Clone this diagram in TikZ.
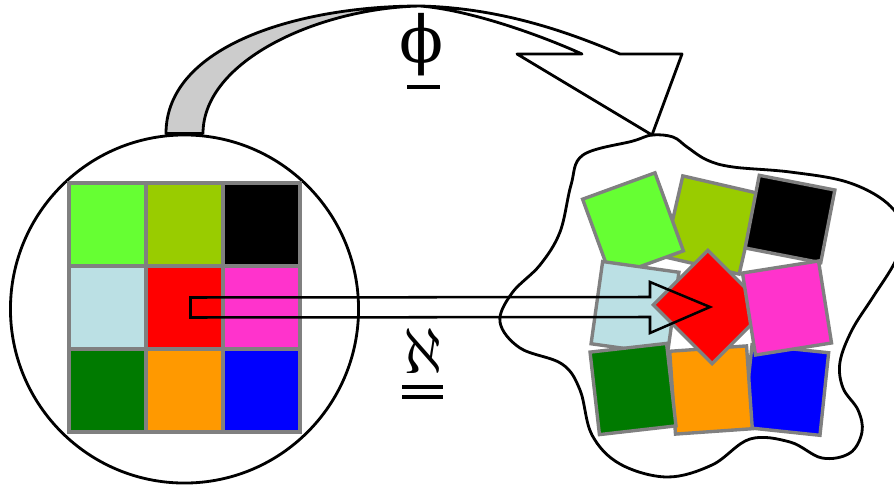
\documentclass[tikz,border=0pt]{standalone}
\usepackage{fix-cm}
\usepackage{fontspec}
\newfontfamily\greekserif{DejaVu Serif}
\usetikzlibrary{calc}
\definecolor{lime}{RGB}{102,255,51}
\definecolor{moss}{RGB}{153,204,0}
\definecolor{ice}{RGB}{187,224,228}
\definecolor{rose}{RGB}{255,51,204}
\definecolor{forest}{RGB}{0,122,0}
\definecolor{amber}{RGB}{255,153,0}
\definecolor{edge}{RGB}{128,128,128}
\definecolor{bandgray}{RGB}{204,204,204}
\tikzset{
  every picture/.style={line width=2pt},
  cell/.style={draw=edge, line width=2.4pt, minimum width=1.925cm, minimum height=2.075cm, inner sep=0pt},
  lens/.style={draw, circle, minimum size=8.7cm, inner sep=0pt},
  band/.style={draw, line width=2pt, line join=round},
  outline/.style={draw, line width=1.8pt, line join=miter},
  glyph/.style={inner sep=0pt, font=\fontsize{46}{50}\selectfont},
  bar/.style={line width=2.2pt},
}

\begin{document}
\begin{tikzpicture}[x=0.025cm, y=-0.025cm]
  % pixel grid of the reference: x to the right, y downwards
  \useasboundingbox (0,0) rectangle (894,486);
  \node[lens] (lens) at (184.5,309) {};
  % the ordered picture: nine cells in a square
  \node[cell, fill=lime]   (limeL)   at (107.5,224.5) {};
  \node[cell, fill=moss]   (mossL)   at (184.5,224.5) {};
  \node[cell, fill=black]  (blackL)  at (261.5,224.5) {};
  \node[cell, fill=ice]    (iceL)    at (107.5,307.5) {};
  \node[cell, fill=red]    (redL)    at (184.5,307.5) {};
  \node[cell, fill=rose]   (roseL)   at (261.5,307.5) {};
  \node[cell, fill=forest] (forestL) at (107.5,390.5) {};
  \node[cell, fill=amber]  (amberL)  at (184.5,390.5) {};
  \node[cell, fill=blue]   (blueL)   at (261.5,390.5) {};
  % the blob, running off the right edge
  \draw plot[smooth cycle, tension=0.6] coordinates {
    (652,135) (673,137) (687,147) (707,160) (733,167) (790,172) (847,182)
    (887,203) (905,232) (895,262) (873,297) (852,330) (840,362) (843,388)
    (858,410) (862,432) (850,453) (822,458) (790,442) (750,439) (712,465)
    (667,477) (620,464) (592,435) (580,390) (562,364) (520,348) (500,322)
    (512,293) (540,265) (560,232) (571,185) (583,155) (633,141)};
  % the same nine cells, shaken about
  \node[cell, fill=moss, rotate=-13]  (mossR)   at (711,225) {};
  \node[cell, fill=black, rotate=-11, minimum height=1.85cm] (blackR) at (790,219) {};
  \node[cell, fill=lime, rotate=20]   (limeR)   at (633,225) {};
  \node[cell, fill=ice, rotate=-8]    (iceR)    at (635,308) {};
  \node[cell, fill=blue, rotate=-6]   (blueR)   at (786,390) {};
  \node[cell, fill=amber, rotate=4]   (amberR)  at (711,390) {};
  \node[cell, fill=forest, rotate=6.5] (forestR) at (633,389) {};
  \node[cell, fill=red, rotate=45]    (redR)    at (710,307) {};
  \node[cell, fill=rose, rotate=9]    (roseR)   at (787,308) {};
  % the map phi: a bent band from the circle to the blob
  \coordinate (footL) at ($(lens.north)+(-18.5,0)$);
  \coordinate (footR) at ($(lens.north)+(18.5,0)$);
  \coordinate (tip) at (652,135);
  \fill[bandgray] (footL) .. controls (166,45) and (300,6) .. (420,6)
    .. controls (320,8) and (203,60) .. (footR) -- cycle;
  \draw[band] (footL) .. controls (166,45) and (300,6) .. (420,6)
    .. controls (505,8) and (575,35) .. (620,54) -- (682,54) -- (tip) -- (517,54) -- (582,54)
    .. controls (540,35) and (470,10) .. (420,6)
    .. controls (320,8) and (203,60) .. (footR) -- cycle;
  % the cell map aleph: an open block arrow from red to red
  \draw[outline] ($(redL)+(6,-10)$) -- ($(redR)+(-60,-10)$) -- ($(redR)+(-60,-25)$)
    -- (redR.center) -- ($(redR)+(-60,26)$) -- ($(redR)+(-60,10)$) -- ($(redL)+(6,10)$) -- cycle;
  \node[glyph, anchor=base] (phi) at (422,63) {\greekserif ϕ};
  \draw[bar] ($(phi.base)+(-15,24)$) -- ++(33,0);
  \node[glyph, anchor=base] (aleph) at (423,373) {$\aleph$};
  \draw[bar] ($(aleph.base)+(-21,14)$) -- ++(41,0);
  \draw[bar] ($(aleph.base)+(-21,24)$) -- ++(41,0);
\end{tikzpicture}
\end{document}
